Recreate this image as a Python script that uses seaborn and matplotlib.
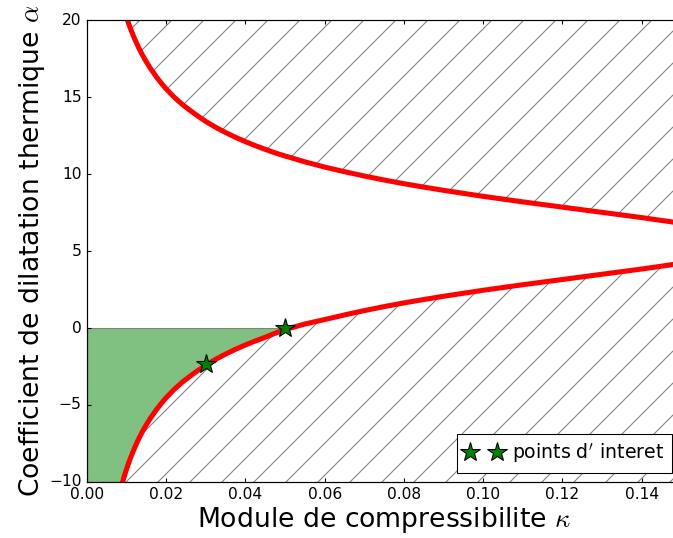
import seaborn as sns
import matplotlib.pyplot as plt
import numpy as np

# values
kappa = [0.0090, 0.0095, 0.0100, 0.0105, 0.0110, 0.0120, 0.0130, 0.0140, 0.0150,
         0.0160, 0.0175, 0.0190, 0.0200, 0.0220, 0.0240, 0.0260, 0.0280, 0.0300,
         0.0325, 0.0350, 0.0375, 0.0400, 0.0425, 0.0450, 0.0475, 0.0500, 0.0550,
         0.0600, 0.0650, 0.0700, 0.0750, 0.0800, 0.0850, 0.0900, 0.1000, 0.1100,
         0.1200, 0.1300, 0.1400, 0.1500]
alpha_up = [20.99, 20.55, 20.15, 19.77, 19.42, 18.79, 18.22, 17.72, 17.27,
            16.86, 16.31, 15.82, 15.52, 14.99, 14.53, 14.13, 13.76, 13.41,
            13.03, 12.69, 12.38, 12.10, 11.84, 11.60, 11.37, 11.17, 10.79,
            10.45, 10.15, 9.87, 9.61, 9.37, 9.15, 8.94, 8.55, 8.19,
            7.85, 7.51, 7.17, 6.80]
alpha_low = [-9.99, -9.55, -9.15, -8.77, -8.42, -7.79, -7.22, -6.72, -6.27,
             -5.86, -5.31, -4.82, -4.52, -3.99, -3.53, -3.13, -2.76, -2.41,
             -2.03, -1.69, -1.38, -1.10, -0.84, -0.60, -0.34, -0.10, 0.26,
             0.55, 0.85, 1.13, 1.39, 1.63, 1.85, 2.06, 2.45, 2.81,
             3.15, 3.49, 3.83, 4.20]
star_k = [0.03, 0.05]
star_a = [-2.37, 0.0]

plt.style.use('classic')
plt.rcParams['hatch.linewidth'] = 0.4
plt.rcParams['mathtext.fontset'] = 'cm'

DPI = 192
fig = plt.figure(figsize=(673 / DPI, 538 / DPI), dpi=DPI, facecolor='white')
# axes runs slightly past the right edge of the picture, as in the reference
ax = fig.add_axes([0.1293, 0.1041, 0.8830, 0.8587])

k = np.array(kappa)
lo = np.array(alpha_low)
up = np.array(alpha_up)

# hatched (forbidden) zones
ax.fill_between(k, up, 20, facecolor='none', edgecolor='gray', hatch='//', linewidth=0)
ax.fill_between(k, -10, np.clip(lo, -10, None), facecolor='none', edgecolor='gray',
                hatch='//', linewidth=0)

# green zone
mask = k <= 0.05
fk = np.concatenate([[0.0], k[mask]])
fl = np.concatenate([[-10.0], np.clip(lo[mask], -10, None)])
ax.fill_between(fk, fl, 0, facecolor='#80c080', edgecolor='gray', linewidth=0.4)

sns.lineplot(x=kappa, y=alpha_up, color='red', linewidth=1.9, ax=ax, sort=False)
sns.lineplot(x=kappa, y=alpha_low, color='red', linewidth=1.9, ax=ax, sort=False)

ax.plot(star_k, star_a, linestyle='none', marker='*', markersize=7.5,
        markerfacecolor='green', markeredgecolor='black', markeredgewidth=0.4,
        label=r"points d$'$ interet")

ax.set_xlim(0, 0.15)
ax.set_ylim(-10, 20)
ax.set_xticks(np.arange(0, 0.141, 0.02))
ax.set_yticks([-10, -5, 0, 5, 10, 15, 20])
ax.tick_params(labelsize=5.8, length=1.6, width=0.4, pad=2)
for s in ax.spines.values():
    s.set_linewidth(0.45)

ax.set_xlabel(r'Module de compressibilite $\kappa$', fontsize=10, labelpad=1)
ax.set_ylabel(r'Coefficient de dilatation thermique $\alpha$', fontsize=10, labelpad=1)

leg = ax.legend(loc='lower right', numpoints=2, fontsize=7.1, borderpad=0.4,
                handlelength=2.0, handletextpad=0.5, borderaxespad=0.5)
leg.get_frame().set_linewidth(0.4)

fig.savefig('out.png', dpi=DPI, facecolor='white')
